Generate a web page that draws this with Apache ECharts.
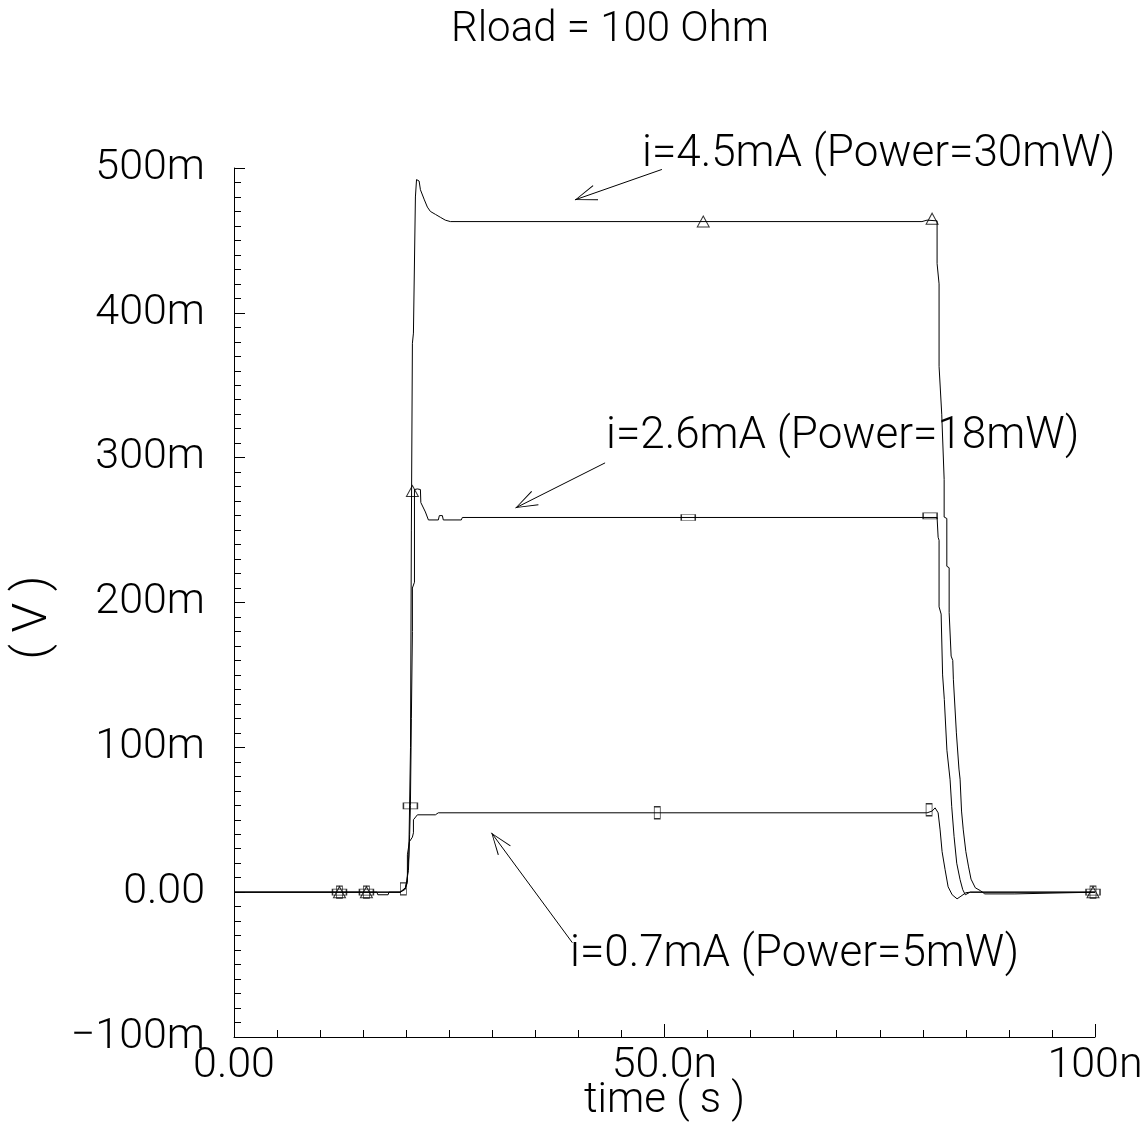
<!DOCTYPE html>
<html><head><meta charset="utf-8">
<script src="https://cdn.jsdelivr.net/npm/echarts@6/dist/echarts.min.js"></script>
<style>html,body{margin:0;padding:0;background:#fff}#c{width:1148px;height:1128px}</style>
</head><body><div id="c"></div>
<script>
// time in ns, voltage in mV
const xTickValues = [0, 50, 100];
const xTickLabels = ['0.00', '50.0n', '100n'];
const yTickValues = [-100, 0, 100, 200, 300, 400, 500];
const yTickLabels = ['\u2212100m', '0.00', '100m', '200m', '300m', '400m', '500m'];
const seriesNames = ['i=4.5mA (Power=30mW)', 'i=2.6mA (Power=18mW)', 'i=0.7mA (Power=5mW)'];

const curveA = [[0,0],[16.6,0],[16.7,-1.8],[17.9,-1.8],[18.0,0],[19.3,0],[19.9,3],[20.1,8],[20.3,25],[20.5,100],[20.6,250],[20.72,379],[20.84,386],[21.07,386],[21.07,480],[21.2,492],[21.5,491],[21.65,485],[21.88,485],[22.11,478],[22.46,473],[22.81,470],[23.39,468],[23.96,466],[24.54,464],[25.13,463],[79.9,463],[80.5,464],[81.66,463.5],[81.66,434],[81.8,433],[81.89,420],[81.89,363],[82.2,330],[82.48,285],[82.48,259],[82.79,258],[82.79,225],[83.06,224],[83.06,193],[83.29,192],[83.29,163],[83.48,160],[83.55,147],[83.9,110],[84.2,85],[84.33,78],[84.5,56],[84.7,43],[85.0,28],[85.3,18],[85.6,9],[86.1,3],[86.7,1],[87.2,-1.2],[90.7,-1.2],[90.8,0],[100,0]];
const curveB = [[0,0],[19.3,0],[19.9,2],[20.26,15],[20.4,40],[20.49,60],[20.6,120],[20.72,180],[20.72,210],[20.96,214],[20.96,278],[21.3,278.4],[21.65,278],[21.7,269],[22.23,262.5],[22.58,257],[23.73,257],[23.85,260],[24.2,260],[24.31,257],[26.4,257],[26.52,258.7],[81.66,258.7],[81.78,245],[81.89,243],[81.89,197],[82.13,192],[82.3,150],[82.5,133],[82.8,98],[83.17,77.6],[83.36,59],[83.63,38.5],[83.94,20],[84.33,8.6],[84.64,1.7],[84.94,-1.8],[85.17,-0.6],[85.5,0],[100,0]];
const curveC = [[0,0],[19.3,0],[19.56,1],[19.9,3],[20.14,6.5],[20.14,25.8],[20.37,25.8],[20.37,34.8],[20.72,38],[20.84,41],[20.84,50],[21.3,53.4],[23.39,53.4],[23.73,54.8],[80.5,54.8],[81.08,56],[81.43,58.2],[81.78,54.8],[82.01,43],[82.24,28],[82.59,15.5],[82.94,3.7],[83.41,-1.8],[83.98,-4.6],[84.33,-3.2],[85.0,-0.4],[85.5,0],[100,0]];

const markA = [[12.25,0],[15.38,0],[20.72,277],[54.5,463],[81.08,465],[99.77,0]];
const markB = [[12.25,0],[15.38,0],[20.49,59.6],[52.76,258.7],[80.85,259.8],[99.77,0]];
const markC = [[12.25,0],[15.38,0],[19.67,2.3],[49.16,54.8],[80.73,56.9],[99.77,0]];

const FONT = 'Roboto, "Noto Sans", sans-serif';
const W = 300;
// open chevron with its tip at the centre of a 44x44 box
const ARROW = 'path://M0,0 L0.05,0 L0,0.05 Z M44,0 L43.95,0 L44,0.05 Z M22,22 L14,44 L15,44.4 L22,24.2 L29,44.4 L30,44 Z';

function lineSeries(name, data, extra) {
  return Object.assign({
    name, type: 'line', data, showSymbol: false, symbol: 'none',
    lineStyle: { color: '#000', width: 1 }, itemStyle: { color: '#000' },
    silent: true, animation: false, z: 2
  }, extra || {});
}
function markSeries(data, symbol, size) {
  return {
    type: 'scatter', data, symbol, symbolSize: size, silent: true, animation: false, z: 3,
    itemStyle: { color: 'rgba(0,0,0,0)', borderColor: '#000', borderWidth: 1 }
  };
}
function annText(i, left, top) {
  return { type: 'text', left, top, z: 10,
    style: { text: seriesNames[i], font: W + ' 44px ' + FONT, fill: '#000' } };
}

const chart = echarts.init(document.getElementById('c'), null, { renderer: 'canvas' });
chart.setOption({
  backgroundColor: '#fff',
  animation: false,
  title: {
    text: 'Rload = 100 Ohm', left: 446, top: 4,
    textStyle: { fontFamily: FONT, fontSize: 42, fontWeight: W, color: '#000' }
  },
  grid: { left: 234, right: 53, top: 168, bottom: 91, containLabel: false, outerBoundsMode: 'none' },
  xAxis: {
    type: 'value', min: 0, max: 100, interval: 50,
    name: 'time ( s )', nameLocation: 'middle', nameGap: 43, nameMoveOverlap: false,
    nameTextStyle: { fontFamily: FONT, fontSize: 42, fontWeight: W, color: '#000' },
    axisLine: { show: true, onZero: false, lineStyle: { color: '#000', width: 1 } },
    axisTick: { show: true, inside: true, length: 13, lineStyle: { color: '#000', width: 1 } },
    minorTick: { show: true, splitNumber: 10, length: 7, lineStyle: { color: '#000', width: 1 } },
    splitLine: { show: false },
    axisLabel: {
      fontFamily: FONT, fontSize: 43, fontWeight: W, color: '#000', margin: 8,
      formatter: v => { const i = xTickValues.indexOf(v); return i >= 0 ? xTickLabels[i] : ''; }
    }
  },
  yAxis: {
    type: 'value', min: -100, max: 500, interval: 100,
    name: '( V )', nameLocation: 'middle', nameGap: 176, nameRotate: 90, nameMoveOverlap: false,
    nameTextStyle: { fontFamily: FONT, fontSize: 48, fontWeight: W, color: '#000', padding: [0, 30, 0, 0] },
    axisLine: { show: true, onZero: false, lineStyle: { color: '#000', width: 1 } },
    axisTick: { show: true, inside: true, length: 11, lineStyle: { color: '#000', width: 1 } },
    minorTick: { show: true, splitNumber: 10, length: 7, lineStyle: { color: '#000', width: 1 } },
    splitLine: { show: false },
    axisLabel: {
      fontFamily: FONT, fontSize: 43, fontWeight: W, color: '#000', margin: 29,
      formatter: v => { const i = yTickValues.indexOf(v); return i >= 0 ? yTickLabels[i] : ''; }
    }
  },
  graphic: [
    annText(0, 642, 133),
    annText(1, 606, 415),
    annText(2, 570, 933)
  ],
  series: [
    lineSeries(seriesNames[0], curveA, {
      markLine: {
        silent: true, animation: false,
        symbol: ['none', ARROW], symbolSize: 44,
        lineStyle: { color: '#000', width: 1, type: 'solid' },
        itemStyle: { color: '#000' },
        label: { show: false },
        emphasis: { disabled: true },
        data: [
          [{ coord: [49.7, 499] }, { coord: [39.6, 478] }],
          [{ coord: [43.1, 296.4] }, { coord: [32.7, 265.3] }],
          [{ coord: [39.3, -34.9] }, { coord: [29.9, 41.0] }]
        ]
      }
    }),
    lineSeries(seriesNames[1], curveB),
    lineSeries(seriesNames[2], curveC),
    markSeries(markA, 'triangle', [12, 11]),
    markSeries(markB, 'rect', [14, 6]),
    markSeries(markC, 'rect', [6, 12])
  ]
});
</script></body></html>
